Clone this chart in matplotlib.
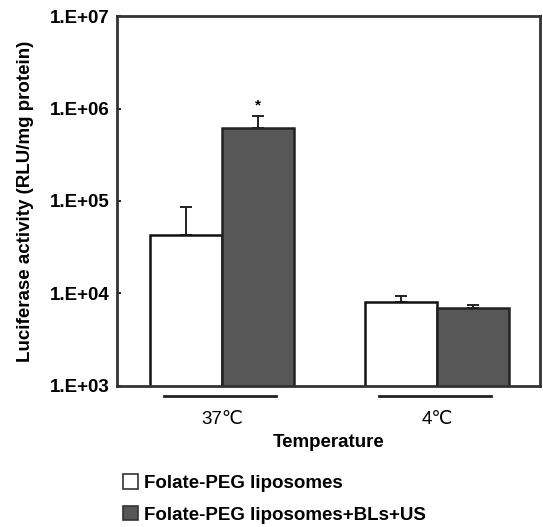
import matplotlib
matplotlib.use("Agg")
import matplotlib.pyplot as plt
import matplotlib.patches as mpatches
import matplotlib.transforms as mtransforms
import numpy as np

plt.rcParams['font.family'] = ['Liberation Sans', 'DejaVu Sans']
plt.rcParams['font.weight'] = 'bold'
plt.rcParams['axes.labelweight'] = 'bold'

# data
temperaturas = ['37℃', '4℃']
serie_nomes = ['Folate-PEG liposomes', 'Folate-PEG liposomes+BLs+US']
folate_peg = [4.3e4, 8.1e3]
folate_peg_err = [4.4e4, 1.3e3]
folate_bls_us = [6.2e5, 6.9e3]
folate_bls_us_err = [2.1e5, 0.6e3]
yticks = [1e3, 1e4, 1e5, 1e6, 1e7]
ytick_labels = ['1.E+03', '1.E+04', '1.E+05', '1.E+06', '1.E+07']

cor_escura = '#575757'
fs = 13.5

fig = plt.figure(figsize=(5.43, 5.27), dpi=100)
ax = fig.add_axes([0.2155, 0.2676, 0.779, 0.702])

x = np.arange(len(temperaturas))
w = 0.335

ax.bar(x - w/2, folate_peg, w, color='white', edgecolor='#111111', linewidth=1.8, zorder=2)
ax.bar(x + w/2, folate_bls_us, w, color=cor_escura, edgecolor='#222222', linewidth=1.8, zorder=2)

# barras de erro so para cima
ax.errorbar(x - w/2, folate_peg, yerr=[np.zeros(2), folate_peg_err], fmt='none',
            ecolor='#222222', elinewidth=1.4, capsize=4, capthick=1.4, zorder=1)
ax.errorbar(x + w/2, folate_bls_us, yerr=[np.zeros(2), folate_bls_us_err], fmt='none',
            ecolor='#222222', elinewidth=1.4, capsize=4, capthick=1.4, zorder=3)

# asterisco
ax.text(x[0] + w/2, (folate_bls_us[0] + folate_bls_us_err[0]) * 1.3, '*',
        ha='center', va='center', fontsize=11)

ax.set_yscale('log')
ax.set_ylim(1e3, 1e7)
ax.set_xlim(-0.488, 1.479)
ax.set_yticks(yticks)
ax.set_yticklabels(ytick_labels, fontsize=fs)
ax.minorticks_off()
ax.tick_params(axis='y', direction='in', length=3, width=1.2, pad=5)

ax.set_xticks(x)
ax.set_xticklabels(temperaturas, fontsize=fs, fontweight='normal')
ax.tick_params(axis='x', length=0, pad=18)
ax.set_xlabel('Temperature', fontsize=fs, labelpad=4)
ax.set_ylabel('Luciferase activity (RLU/mg protein)', fontsize=fs, labelpad=12)

for s in ax.spines.values():
    s.set_linewidth(2)
    s.set_color('#333333')

# linhas embaixo de cada grupo
trans = mtransforms.blended_transform_factory(ax.transData, ax.transAxes)
for xi in x:
    ax.plot([xi - 0.27, xi + 0.25], [-0.028, -0.028], color='#222222', lw=2,
            transform=trans, clip_on=False)

handles = [mpatches.Patch(facecolor='white', edgecolor='#333333', lw=1.2, label=serie_nomes[0]),
           mpatches.Patch(facecolor=cor_escura, edgecolor='#333333', lw=1.2, label=serie_nomes[1])]
fig.legend(handles=handles, loc='upper left', bbox_to_anchor=(0.226, 0.100), frameon=False,
           fontsize=fs, handlelength=0.8, handleheight=0.8, handletextpad=0.35,
           labelspacing=0.75, borderaxespad=0, borderpad=0)

fig.savefig('out.png', dpi=100)
